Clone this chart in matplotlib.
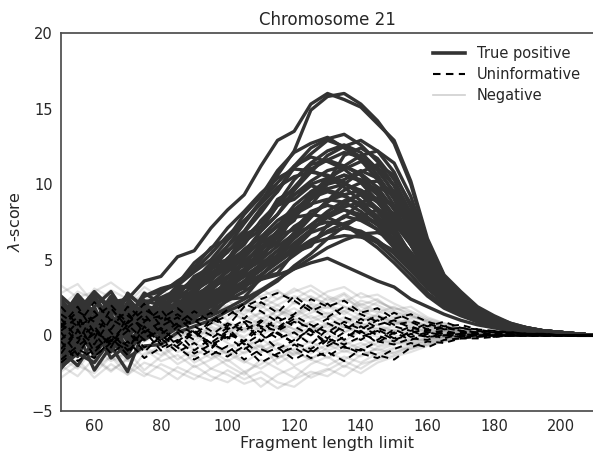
import matplotlib
matplotlib.use("Agg")
import matplotlib.pyplot as plt
from matplotlib.lines import Line2D

# ---------------- data ----------------
fragment_length = [50, 55, 60, 65, 70, 75, 80, 85, 90, 95, 100, 105, 110, 115, 120, 125,
                   130, 135, 140, 145, 150, 155, 160, 165, 170, 175, 180, 185, 190, 195,
                   200, 205, 210]

# True positive curves
tp01 = [1.5, 2.4, 0.8, 2.2, 2.4, 3.6, 3.9, 5.2, 5.6, 7.1, 8.3, 9.3, 11.2, 12.9, 13.5, 15.3, 16.0, 15.6, 15.1, 14.0, 12.9, 10.2, 6.4, 4.0, 2.9, 1.9, 1.3, 0.8, 0.5, 0.3, 0.2, 0.1, 0.0]
tp02 = [0.4, -0.6, 1.2, 0.3, 1.5, 1.1, 2.2, 2.9, 3.6, 4.8, 5.9, 7.4, 8.8, 10.6, 12.2, 14.9, 15.8, 16.0, 15.3, 14.2, 12.7, 10.0, 6.2, 3.9, 2.8, 1.8, 1.2, 0.8, 0.5, 0.3, 0.2, 0.1, 0.0]
tp03 = [0.9, 1.8, 0.2, 1.4, -0.3, 1.9, 1.6, 3.1, 3.3, 4.6, 5.5, 6.8, 8.1, 9.6, 11.2, 12.4, 13.0, 13.3, 12.6, 11.5, 9.9, 7.6, 4.9, 3.3, 2.2, 1.5, 1.0, 0.6, 0.4, 0.3, 0.2, 0.1, 0.0]
tp04 = [-0.8, 0.5, 1.7, 0.1, 1.2, 2.6, 2.9, 3.4, 4.5, 5.8, 6.4, 8.0, 9.2, 10.9, 12.1, 12.7, 13.1, 12.4, 11.6, 10.3, 8.6, 6.3, 4.3, 2.8, 1.9, 1.3, 0.9, 0.6, 0.4, 0.2, 0.1, 0.1, 0.0]
tp05 = [2.1, 0.6, -0.7, 1.0, 0.8, 0.2, 1.4, 1.9, 2.7, 3.2, 4.4, 5.3, 6.9, 8.0, 9.6, 10.8, 11.9, 12.5, 12.9, 12.2, 10.8, 8.5, 5.6, 3.7, 2.5, 1.6, 1.1, 0.7, 0.4, 0.3, 0.2, 0.1, 0.0]
tp06 = [0.2, 1.1, 2.4, 0.5, -1.1, 1.3, 0.9, 2.4, 3.0, 3.9, 5.1, 6.0, 7.6, 8.7, 10.3, 11.4, 12.2, 12.6, 12.1, 11.0, 9.4, 7.1, 4.6, 3.1, 2.1, 1.4, 0.9, 0.6, 0.4, 0.2, 0.1, 0.1, 0.0]
tp07 = [1.3, -0.4, 0.7, 1.8, 0.4, 1.0, 1.9, 2.6, 2.8, 4.1, 4.9, 6.2, 7.0, 8.6, 9.8, 11.0, 11.6, 12.1, 11.8, 10.9, 9.5, 7.4, 4.8, 3.2, 2.1, 1.4, 0.9, 0.6, 0.4, 0.2, 0.1, 0.1, 0.0]
tp08 = [0.5, 2.2, 1.0, -0.2, 1.6, 2.3, 2.0, 3.3, 4.2, 5.0, 6.3, 7.5, 8.9, 10.1, 11.2, 11.8, 11.5, 11.0, 10.1, 8.9, 7.2, 5.3, 3.6, 2.5, 1.7, 1.2, 0.8, 0.5, 0.3, 0.2, 0.1, 0.1, 0.0]
tp09 = [-1.2, 0.3, -0.5, 0.9, 0.1, 0.6, 0.8, 1.5, 2.1, 2.6, 3.5, 4.4, 5.6, 6.7, 8.1, 9.3, 10.4, 11.0, 11.5, 11.1, 9.9, 8.0, 5.4, 3.6, 2.4, 1.6, 1.0, 0.7, 0.4, 0.3, 0.2, 0.1, 0.0]
tp10 = [1.8, 0.9, 2.5, 1.1, 0.3, 1.7, 1.2, 2.0, 3.1, 3.6, 4.8, 5.5, 6.9, 8.0, 9.3, 10.2, 10.9, 11.2, 10.7, 9.8, 8.3, 6.5, 4.3, 2.9, 1.9, 1.3, 0.9, 0.6, 0.4, 0.2, 0.1, 0.1, 0.0]
tp11 = [0.0, 1.4, -0.9, 0.6, 1.9, 0.7, 1.5, 2.2, 2.5, 3.4, 4.2, 5.1, 6.3, 7.2, 8.6, 9.5, 10.2, 10.6, 10.3, 9.6, 8.4, 6.6, 4.4, 3.0, 2.0, 1.3, 0.9, 0.6, 0.4, 0.2, 0.1, 0.1, 0.0]
tp12 = [2.4, 1.0, 0.3, 2.0, 1.3, 0.5, 2.4, 2.9, 3.7, 4.3, 5.6, 6.4, 7.5, 8.6, 9.3, 10.0, 10.4, 10.1, 9.4, 8.4, 7.0, 5.4, 3.7, 2.6, 1.8, 1.2, 0.8, 0.5, 0.3, 0.2, 0.1, 0.1, 0.0]
tp13 = [-1.6, -0.3, 0.6, -0.8, 0.2, 0.9, 0.5, 1.1, 1.6, 2.3, 2.9, 3.6, 4.7, 5.6, 6.8, 7.9, 8.8, 9.6, 10.1, 10.2, 9.4, 7.9, 5.6, 3.8, 2.6, 1.7, 1.1, 0.7, 0.5, 0.3, 0.2, 0.1, 0.0]
tp14 = [0.7, -0.9, 1.3, 0.2, 1.0, 1.8, 1.0, 1.7, 2.4, 3.2, 3.9, 4.9, 5.8, 6.9, 8.0, 9.0, 9.7, 10.0, 9.6, 8.8, 7.6, 6.0, 4.1, 2.8, 1.9, 1.3, 0.9, 0.6, 0.4, 0.2, 0.1, 0.1, 0.0]
tp15 = [1.1, 2.7, 1.5, 0.6, 2.1, 1.4, 1.8, 2.5, 3.3, 3.9, 4.6, 5.7, 6.5, 7.6, 8.3, 9.1, 9.5, 9.2, 8.7, 7.9, 6.6, 5.1, 3.5, 2.4, 1.7, 1.1, 0.8, 0.5, 0.3, 0.2, 0.1, 0.1, 0.0]
tp16 = [-0.5, 0.8, -1.4, 0.4, -0.2, 0.3, 0.6, 0.9, 1.7, 2.0, 2.8, 3.4, 4.4, 5.3, 6.4, 7.3, 8.2, 8.9, 9.3, 8.9, 8.0, 6.6, 4.7, 3.2, 2.2, 1.5, 1.0, 0.6, 0.4, 0.3, 0.2, 0.1, 0.0]
tp17 = [1.6, 0.2, 0.9, 2.6, 0.8, 1.1, 1.4, 2.1, 2.9, 3.7, 4.5, 5.4, 6.2, 7.3, 8.1, 8.7, 9.0, 8.8, 8.2, 7.3, 6.1, 4.7, 3.3, 2.3, 1.6, 1.1, 0.7, 0.5, 0.3, 0.2, 0.1, 0.1, 0.0]
tp18 = [0.3, 1.6, 0.4, -0.6, 0.9, -0.1, 0.7, 1.3, 1.9, 2.5, 3.1, 3.9, 4.7, 5.6, 6.5, 7.3, 8.0, 8.5, 8.8, 8.4, 7.4, 6.0, 4.2, 2.9, 2.0, 1.4, 0.9, 0.6, 0.4, 0.2, 0.1, 0.1, 0.0]
tp19 = [-1.9, -0.4, 0.7, -1.1, 0.5, 0.2, 0.3, 1.0, 1.4, 2.2, 2.7, 3.5, 4.3, 5.2, 6.1, 7.0, 7.8, 8.3, 8.0, 7.3, 6.2, 4.9, 3.4, 2.4, 1.6, 1.1, 0.7, 0.5, 0.3, 0.2, 0.1, 0.1, 0.0]
tp20 = [2.0, 1.2, 2.8, 1.6, 0.9, 2.2, 2.5, 3.0, 3.5, 4.0, 4.9, 5.6, 6.5, 7.2, 7.8, 8.0, 7.8, 7.3, 6.6, 5.8, 4.8, 3.7, 2.6, 1.8, 1.3, 0.9, 0.6, 0.4, 0.3, 0.2, 0.1, 0.1, 0.0]
tp21 = [0.9, -0.7, 0.1, 1.2, -0.4, 0.6, 0.2, 0.8, 1.2, 1.6, 2.3, 2.9, 3.7, 4.5, 5.3, 6.1, 6.9, 7.4, 7.8, 7.5, 6.7, 5.5, 3.9, 2.7, 1.8, 1.2, 0.8, 0.5, 0.3, 0.2, 0.1, 0.1, 0.0]
tp22 = [-0.2, 1.9, 0.5, 0.0, 1.7, 0.8, 1.1, 1.6, 2.2, 2.8, 3.4, 4.2, 5.0, 5.9, 6.7, 7.2, 7.5, 7.3, 6.8, 6.1, 5.1, 4.0, 2.8, 2.0, 1.4, 0.9, 0.6, 0.4, 0.3, 0.2, 0.1, 0.1, 0.0]
tp23 = [1.3, 0.1, -1.0, 0.7, 1.4, -0.3, 0.4, 1.2, 1.5, 2.0, 2.6, 3.3, 4.0, 4.8, 5.6, 6.3, 6.8, 7.1, 6.9, 6.3, 5.4, 4.3, 3.1, 2.2, 1.5, 1.0, 0.7, 0.5, 0.3, 0.2, 0.1, 0.1, 0.0]
tp24 = [-2.2, -0.8, 0.4, -1.5, -0.6, 0.3, -0.2, 0.5, 0.9, 1.3, 1.8, 2.4, 3.0, 3.7, 4.4, 5.1, 5.8, 6.3, 6.7, 6.8, 6.4, 5.5, 4.1, 2.9, 2.0, 1.4, 0.9, 0.6, 0.4, 0.2, 0.1, 0.1, 0.0]
tp25 = [0.6, 2.3, 1.1, 1.9, 0.2, 1.5, 1.7, 2.0, 2.4, 2.8, 3.3, 3.9, 4.5, 5.1, 5.6, 6.1, 6.4, 6.6, 6.5, 6.2, 5.6, 4.6, 3.4, 2.4, 1.7, 1.2, 0.8, 0.5, 0.3, 0.2, 0.1, 0.1, 0.0]
tp26 = [-1.4, 0.2, -2.3, -0.7, -2.4, 0.4, -0.2, 0.9, 2.0, 2.6, 3.0, 3.3, 3.7, 4.0, 4.4, 4.8, 5.1, 4.6, 4.1, 3.6, 3.2, 2.4, 1.9, 1.4, 1.0, 0.7, 0.5, 0.3, 0.2, 0.1, 0.1, 0.0, 0.0]
tp27 = [0.1, -1.0, 1.0, 0.4, 2.0, 0.9, 0.4, 1.3, 1.8, 2.4, 3.2, 4.1, 5.2, 6.5, 7.8, 9.0, 10.2, 11.2, 11.9, 12.2, 11.4, 9.2, 6.0, 3.9, 2.6, 1.7, 1.1, 0.7, 0.5, 0.3, 0.2, 0.1, 0.0]
tp28 = [1.0, 2.1, 0.0, 1.4, 2.7, 1.9, 2.8, 3.6, 4.3, 5.4, 6.6, 7.6, 8.7, 9.8, 10.5, 10.8, 10.6, 10.1, 9.3, 8.2, 6.8, 5.2, 3.6, 2.5, 1.7, 1.2, 0.8, 0.5, 0.3, 0.2, 0.1, 0.1, 0.0]
tp29 = [-0.9, 0.6, 0.2, -0.4, 0.8, 1.4, 0.1, 0.7, 1.2, 1.9, 2.5, 3.2, 4.0, 4.9, 5.9, 6.9, 7.9, 8.7, 9.4, 9.8, 9.3, 7.7, 5.4, 3.6, 2.4, 1.6, 1.0, 0.7, 0.4, 0.3, 0.2, 0.1, 0.0]
tp30 = [1.7, 0.4, 1.9, 2.9, 1.2, 2.6, 3.1, 3.4, 4.8, 5.7, 7.1, 8.2, 9.4, 10.4, 11.0, 10.9, 10.5, 9.8, 8.9, 7.7, 6.3, 4.8, 3.4, 2.4, 1.6, 1.1, 0.8, 0.5, 0.3, 0.2, 0.1, 0.1, 0.0]
tp31 = [0.6, -1.4, 0.9, 2.3, 0.1, 1.1, 0.5, 1.7, 1.3, 2.9, 2.6, 4.3, 4.9, 6.8, 7.6, 9.5, 10.1, 11.9, 12.4, 11.7, 10.3, 8.1, 5.2, 3.5, 2.3, 1.5, 1.0, 0.6, 0.4, 0.3, 0.2, 0.1, 0.0]
tp32 = [-0.6, 1.7, 2.6, 0.8, 1.5, -0.2, 1.3, 2.9, 2.6, 4.4, 4.9, 6.6, 7.2, 9.0, 9.6, 11.3, 11.6, 11.2, 10.6, 9.4, 7.9, 6.0, 4.0, 2.7, 1.8, 1.2, 0.8, 0.5, 0.3, 0.2, 0.1, 0.1, 0.0]
tp33 = [1.2, 0.2, -1.2, 0.5, 2.2, 0.4, 0.9, 1.0, 2.2, 2.3, 3.8, 4.0, 5.9, 6.2, 8.0, 8.6, 10.0, 10.3, 10.9, 10.4, 9.1, 7.4, 5.0, 3.4, 2.3, 1.5, 1.0, 0.6, 0.4, 0.3, 0.2, 0.1, 0.0]
tp34 = [2.3, 1.3, 0.5, 2.4, 1.1, 2.8, 2.1, 3.3, 3.1, 4.7, 5.0, 6.7, 7.1, 8.6, 9.0, 9.9, 9.6, 9.3, 8.5, 7.6, 6.2, 4.8, 3.3, 2.3, 1.6, 1.1, 0.7, 0.5, 0.3, 0.2, 0.1, 0.1, 0.0]
tp35 = [-1.0, -2.0, -0.3, 0.9, -0.9, 0.0, 0.9, 0.4, 1.5, 1.3, 2.4, 2.5, 3.8, 4.1, 5.5, 5.9, 7.3, 7.8, 8.8, 9.1, 8.6, 7.2, 5.1, 3.5, 2.4, 1.6, 1.0, 0.7, 0.4, 0.3, 0.2, 0.1, 0.0]
tp36 = [0.8, 2.5, 1.4, 0.2, 2.8, 1.8, 0.9, 2.3, 1.8, 3.4, 3.5, 4.8, 5.2, 6.6, 7.0, 8.2, 8.6, 8.3, 7.8, 7.0, 5.8, 4.5, 3.1, 2.2, 1.5, 1.0, 0.7, 0.5, 0.3, 0.2, 0.1, 0.1, 0.0]
tp37 = [-0.3, 0.7, 1.9, -0.5, 0.7, 2.0, 1.6, 1.4, 2.7, 2.9, 4.3, 4.6, 6.1, 6.8, 8.3, 9.2, 10.1, 10.6, 10.2, 9.3, 7.9, 6.1, 4.1, 2.8, 1.9, 1.3, 0.9, 0.6, 0.4, 0.2, 0.1, 0.1, 0.0]
tp38 = [1.9, 0.4, -0.4, 1.3, 0.0, 0.9, 0.0, 1.4, 1.0, 2.4, 2.3, 3.6, 3.9, 5.1, 5.7, 6.8, 7.2, 7.9, 7.6, 7.0, 6.0, 4.7, 3.3, 2.3, 1.6, 1.1, 0.7, 0.5, 0.3, 0.2, 0.1, 0.1, 0.0]
tp39 = [0.3, 1.0, -0.2, 1.6, 2.5, 1.2, 2.4, 2.6, 3.9, 4.5, 5.9, 6.9, 8.4, 9.5, 11.1, 12.0, 12.9, 12.5, 11.8, 10.6, 9.0, 6.8, 4.5, 3.0, 2.0, 1.3, 0.9, 0.6, 0.4, 0.2, 0.1, 0.1, 0.0]
tp40 = [-1.7, 0.0, -0.7, 0.3, -1.3, 0.5, 0.3, 0.6, 1.4, 1.6, 2.9, 3.1, 4.6, 5.3, 6.6, 7.8, 8.9, 10.0, 10.8, 11.3, 10.6, 8.7, 5.9, 3.9, 2.6, 1.7, 1.1, 0.7, 0.5, 0.3, 0.2, 0.1, 0.0]
tp41 = [2.6, 1.6, 2.9, 1.8, 2.4, 1.3, 2.3, 1.8, 2.6, 3.0, 3.9, 4.3, 5.4, 6.1, 7.2, 7.9, 8.9, 9.3, 9.6, 9.0, 7.9, 6.4, 4.5, 3.1, 2.1, 1.4, 0.9, 0.6, 0.4, 0.2, 0.1, 0.1, 0.0]
tp42 = [-2.1, -1.2, -1.8, -0.3, -1.5, -0.7, -0.6, 0.2, 0.6, 1.0, 1.6, 2.1, 2.9, 3.6, 4.6, 5.4, 6.4, 7.2, 7.9, 8.3, 7.9, 6.8, 4.9, 3.4, 2.3, 1.6, 1.0, 0.7, 0.4, 0.3, 0.2, 0.1, 0.0]

# Uninformative curves
un01 = [0.8, -0.5, 1.6, 0.2, -1.0, 0.9, 1.7, 0.4, -0.3, 1.1, 0.6, 1.9, 2.4, 2.8, 2.3, 1.6, 2.1, 1.2, 0.8, 1.3, 0.7, 0.9, 0.4, 0.6, 0.3, 0.2, 0.3, 0.1, 0.1, 0.0, 0.0, 0.0, 0.0]
un02 = [-1.2, 0.3, -0.6, 1.1, 0.4, -0.8, -0.2, -1.1, -0.5, -1.3, -0.7, -1.6, -0.9, -1.4, -0.6, -1.2, -0.3, -0.8, -1.0, -0.4, -0.6, -0.2, -0.3, 0.1, -0.1, 0.0, 0.1, 0.0, 0.0, 0.0, 0.0, 0.0, 0.0]
un03 = [1.9, 0.7, 2.2, 1.0, 1.5, 0.2, 0.9, 1.4, 0.6, 0.0, 0.8, 0.3, 1.0, 0.5, 1.3, 0.7, 0.2, 0.9, 0.4, 1.0, 0.6, 0.3, 0.8, 0.4, 0.5, 0.3, 0.2, 0.2, 0.1, 0.1, 0.0, 0.0, 0.0]
un04 = [-0.4, -1.7, -0.9, -0.1, -1.3, 0.6, -0.6, 0.2, -1.0, -0.2, 0.5, -0.6, 0.1, -0.9, -0.3, 0.4, -0.7, -0.1, 0.3, -0.5, 0.2, -0.3, 0.1, -0.2, 0.1, 0.0, -0.1, 0.0, 0.0, 0.0, 0.0, 0.0, 0.0]
un05 = [0.3, 1.2, -0.2, 1.8, 0.5, 1.4, 0.1, 0.8, 1.6, 0.9, 1.7, 1.1, 2.2, 1.5, 2.6, 1.8, 1.2, 1.9, 1.4, 0.9, 1.5, 1.0, 0.6, 0.9, 0.5, 0.4, 0.2, 0.2, 0.1, 0.1, 0.0, 0.0, 0.0]
un06 = [-0.9, 0.4, -1.4, -0.5, 0.7, -0.3, 0.4, -0.7, 0.2, -0.5, -1.1, -0.4, -1.3, -0.8, -1.6, -1.0, -1.4, -0.7, -1.2, -1.5, -0.9, -0.5, -0.8, -0.3, -0.2, -0.1, 0.0, 0.0, 0.0, 0.0, 0.0, 0.0, 0.0]
un07 = [1.1, -0.2, 0.6, -0.8, 1.3, 0.5, -0.4, 0.6, 1.0, 0.3, -0.2, 0.7, 0.2, 1.2, 0.6, 0.0, 0.8, 0.3, 1.1, 0.5, 0.1, 0.6, 0.2, 0.3, 0.1, 0.2, 0.1, 0.0, 0.0, 0.0, 0.0, 0.0, 0.0]
un08 = [-1.6, -0.7, 0.1, -1.2, -0.4, -1.5, -0.8, -0.3, -1.2, -0.6, -0.1, -0.9, -0.3, 0.2, -0.5, -0.9, -0.2, -0.6, -0.1, 0.3, -0.3, 0.1, -0.1, 0.0, -0.1, 0.0, 0.0, 0.0, 0.0, 0.0, 0.0, 0.0, 0.0]
un09 = [0.5, 1.6, 0.9, 0.4, 1.9, 1.0, 1.3, 0.7, 0.1, 0.8, 1.3, 2.1, 1.6, 0.9, 1.4, 2.4, 1.9, 2.3, 1.5, 1.8, 1.1, 1.4, 0.9, 0.6, 0.7, 0.4, 0.3, 0.2, 0.1, 0.1, 0.0, 0.0, 0.0]
un10 = [-0.3, 0.9, -1.1, 0.0, -0.7, 0.3, -1.0, -0.4, 0.4, -0.9, 0.1, -0.4, 0.5, -0.2, 0.2, -0.6, 0.4, -0.3, 0.6, 0.0, -0.4, 0.3, -0.1, 0.2, 0.0, 0.1, 0.0, 0.0, 0.0, 0.0, 0.0, 0.0, 0.0]
un11 = [0.2, -1.3, 0.4, -0.6, 0.3, -1.1, 0.0, -0.8, -1.6, -1.0, -1.4, -0.7, -1.8, -1.2, -0.8, -1.5, -1.1, -1.7, -0.9, -1.3, -1.6, -0.8, -0.4, -0.5, -0.2, -0.2, -0.1, 0.0, 0.0, 0.0, 0.0, 0.0, 0.0]
un12 = [1.4, 0.6, 1.2, 2.0, 0.8, 1.7, 1.1, 1.8, 0.9, 1.5, 0.4, 1.0, 0.6, 0.3, 0.9, 0.5, 1.1, 0.6, 0.2, 0.7, 1.0, 0.5, 0.3, 0.5, 0.3, 0.1, 0.1, 0.1, 0.0, 0.0, 0.0, 0.0, 0.0]
un13 = [-1.8, -0.9, -1.5, -0.3, -1.0, -0.2, 0.5, -0.5, 0.3, -0.8, 0.2, -0.4, 0.9, 0.1, -0.5, 0.5, -0.2, 0.7, 0.1, -0.3, 0.4, -0.1, 0.2, 0.0, 0.1, 0.0, 0.0, 0.0, 0.0, 0.0, 0.0, 0.0, 0.0]
un14 = [0.6, 1.9, 0.2, -0.4, 0.9, 2.1, 0.6, 1.2, 0.2, -0.5, 0.3, 0.9, -0.4, 0.4, 1.1, 0.3, -0.5, 0.2, -0.3, 0.4, -0.2, 0.2, 0.4, 0.1, 0.2, 0.1, 0.0, 0.0, 0.0, 0.0, 0.0, 0.0, 0.0]

# Negative curves
ng01 = [2.8, 3.4, 2.1, 3.0, 2.4, 1.6, 2.2, 1.4, 2.0, 2.6, 1.8, 2.5, 3.1, 2.4, 2.9, 3.3, 2.6, 2.2, 2.8, 2.3, 1.7, 1.9, 1.2, 0.8, 0.5, 0.3, 0.2, 0.1, 0.0, 0.0, 0.0, 0.0, 0.0]
ng02 = [-2.4, -1.6, -2.8, -1.9, -2.6, -1.8, -2.2, -2.9, -2.0, -2.7, -3.1, -2.4, -3.4, -2.6, -2.1, -2.8, -2.3, -1.7, -2.2, -1.5, -1.1, -0.8, -0.6, -0.3, -0.2, -0.1, 0.0, 0.0, 0.0, 0.0, 0.0, 0.0, 0.0]
ng03 = [0.6, 1.5, 0.2, 1.1, 1.9, 0.8, 1.3, 0.5, 1.2, 0.7, 1.6, 1.0, 0.4, 1.3, 1.8, 1.1, 1.5, 0.9, 1.4, 1.0, 0.7, 1.1, 0.6, 0.4, 0.3, 0.2, 0.1, 0.0, 0.0, 0.0, 0.0, 0.0, 0.0]
ng04 = [-0.8, 0.1, -1.3, -0.4, 0.3, -0.9, -0.2, -1.1, -0.6, 0.2, -0.5, -1.2, -0.7, -1.5, -0.9, -0.4, -1.0, -0.6, -0.2, -0.7, -0.3, -0.5, -0.2, -0.1, -0.1, 0.0, 0.0, 0.0, 0.0, 0.0, 0.0, 0.0, 0.0]
ng05 = [1.7, 0.9, 2.4, 1.3, 0.6, 1.8, 0.7, 1.5, 0.9, 1.9, 2.3, 1.6, 2.0, 1.2, 2.2, 1.7, 2.5, 1.9, 1.3, 1.8, 1.4, 0.9, 0.7, 0.5, 0.3, 0.2, 0.1, 0.0, 0.0, 0.0, 0.0, 0.0, 0.0]
ng06 = [-1.5, -2.2, -0.8, -1.7, -1.1, -2.3, -1.4, -0.7, -1.8, -1.2, -2.0, -2.6, -1.6, -2.2, -2.8, -1.9, -1.4, -2.1, -1.3, -0.9, -1.2, -0.7, -0.4, -0.3, -0.1, -0.1, 0.0, 0.0, 0.0, 0.0, 0.0, 0.0, 0.0]
ng07 = [0.1, -0.6, 0.8, -0.2, 0.5, 0.0, 0.9, 0.3, -0.4, 0.6, 0.1, 0.8, 0.3, 0.9, 0.4, 0.0, 0.7, 0.2, 0.8, 0.4, 0.6, 0.2, 0.4, 0.2, 0.1, 0.1, 0.0, 0.0, 0.0, 0.0, 0.0, 0.0, 0.0]
ng08 = [2.2, 1.4, 3.1, 2.5, 1.8, 2.9, 2.0, 2.7, 1.6, 1.2, 1.7, 1.1, 1.5, 2.0, 1.4, 2.1, 1.8, 2.4, 1.9, 1.5, 1.9, 1.3, 0.9, 0.6, 0.4, 0.2, 0.1, 0.1, 0.0, 0.0, 0.0, 0.0, 0.0]
ng09 = [-0.2, 0.7, -0.5, 0.4, -0.9, 0.2, -0.3, 0.5, 0.0, -0.6, 0.3, -0.2, -0.8, -0.3, 0.2, -0.5, 0.1, -0.4, 0.3, -0.1, 0.0, -0.2, 0.1, 0.0, 0.0, 0.0, 0.0, 0.0, 0.0, 0.0, 0.0, 0.0, 0.0]
ng10 = [1.0, 2.0, 1.4, 0.3, 1.1, 0.4, -0.1, 0.6, 0.2, 0.9, 0.4, -0.1, 0.6, 0.1, 0.8, 1.3, 0.7, 1.2, 0.6, 1.1, 0.9, 0.5, 0.3, 0.3, 0.2, 0.1, 0.0, 0.0, 0.0, 0.0, 0.0, 0.0, 0.0]
ng11 = [-1.9, -1.0, -1.6, -2.4, -1.5, -0.9, -1.7, -1.3, -2.1, -1.6, -1.0, -1.7, -2.2, -1.5, -1.1, -1.6, -2.0, -1.4, -1.8, -1.2, -0.8, -0.9, -0.5, -0.3, -0.2, -0.1, 0.0, 0.0, 0.0, 0.0, 0.0, 0.0, 0.0]
ng12 = [0.4, -0.3, 0.0, 0.9, 0.1, 0.7, 0.3, -0.2, 0.5, 1.1, 0.6, 0.2, 1.0, 0.5, 1.1, 0.6, 0.3, 0.8, 1.2, 0.7, 1.0, 0.6, 0.3, 0.3, 0.1, 0.1, 0.1, 0.0, 0.0, 0.0, 0.0, 0.0, 0.0]
ng13 = [3.3, 2.5, 2.9, 3.5, 2.7, 2.2, 3.0, 2.4, 1.7, 2.3, 2.8, 3.3, 2.5, 2.0, 2.6, 2.2, 2.9, 3.2, 2.5, 2.7, 2.1, 1.6, 1.1, 0.8, 0.5, 0.3, 0.1, 0.1, 0.0, 0.0, 0.0, 0.0, 0.0]
ng14 = [-0.5, -1.2, -0.2, -0.9, -1.7, -0.8, -1.3, -0.5, -0.9, -1.5, -0.8, -0.3, -1.1, -0.6, -1.3, -0.8, -0.3, -0.9, -0.5, -1.0, -0.6, -0.3, -0.3, -0.1, -0.1, 0.0, 0.0, 0.0, 0.0, 0.0, 0.0, 0.0, 0.0]
ng15 = [0.9, 0.2, 1.0, 0.5, -0.2, 0.4, 1.2, 0.8, 1.4, 0.9, 0.3, 0.8, 1.5, 0.9, 0.4, 0.9, 1.3, 0.5, 0.9, 1.4, 0.8, 0.7, 0.5, 0.3, 0.2, 0.1, 0.1, 0.0, 0.0, 0.0, 0.0, 0.0, 0.0]
ng16 = [-2.8, -2.0, -2.5, -1.4, -2.1, -2.7, -1.9, -2.4, -2.9, -2.2, -2.6, -3.2, -2.8, -3.5, -2.9, -2.4, -2.7, -2.0, -2.5, -1.8, -1.4, -1.1, -0.7, -0.4, -0.2, -0.1, 0.0, 0.0, 0.0, 0.0, 0.0, 0.0, 0.0]
ng17 = [1.3, 2.2, 0.7, 1.6, 2.3, 1.2, 1.7, 2.1, 1.2, 0.8, 1.3, 1.8, 1.1, 1.6, 1.0, 1.5, 1.9, 1.4, 2.1, 1.6, 1.2, 1.4, 0.8, 0.6, 0.4, 0.2, 0.1, 0.0, 0.0, 0.0, 0.0, 0.0, 0.0]
ng18 = [-1.1, -0.3, -1.9, -1.0, -0.5, -1.4, -0.6, -1.6, -0.9, -0.4, -1.3, -0.8, -0.2, -1.0, -0.5, -1.2, -0.6, -1.1, -0.7, -0.3, -0.5, -0.4, -0.2, -0.1, 0.0, 0.0, 0.0, 0.0, 0.0, 0.0, 0.0, 0.0, 0.0]
ng19 = [0.0, 0.8, 0.3, -0.5, 0.6, 1.3, 0.5, 0.9, 0.3, 0.0, 0.7, 0.3, 0.9, 0.4, 0.1, 0.5, 0.2, 0.6, 0.1, 0.5, 0.3, 0.2, 0.2, 0.1, 0.1, 0.0, 0.0, 0.0, 0.0, 0.0, 0.0, 0.0, 0.0]
ng20 = [2.5, 1.8, 1.1, 2.0, 1.4, 2.6, 1.5, 1.0, 2.3, 1.7, 1.0, 2.0, 2.6, 3.0, 2.1, 2.6, 2.0, 1.6, 2.3, 2.0, 1.5, 1.2, 1.0, 0.6, 0.4, 0.2, 0.1, 0.1, 0.0, 0.0, 0.0, 0.0, 0.0]
ng21 = [-1.3, -0.6, -0.1, -1.1, -0.3, 0.4, -0.8, 0.0, -0.5, -1.0, -1.7, -1.1, -0.6, -1.9, -1.2, -0.7, -1.5, -1.0, -1.4, -0.8, -0.5, -0.6, -0.3, -0.2, -0.1, 0.0, 0.0, 0.0, 0.0, 0.0, 0.0, 0.0, 0.0]
ng22 = [0.7, 1.8, 1.2, 2.7, 1.0, 0.5, 1.0, 1.8, 2.5, 1.9, 2.7, 2.3, 1.8, 2.4, 3.1, 2.5, 2.1, 2.7, 1.6, 2.2, 1.8, 1.5, 1.0, 0.7, 0.4, 0.2, 0.1, 0.0, 0.0, 0.0, 0.0, 0.0, 0.0]
ng23 = [1.9, 2.9, 2.4, 1.2, 2.1, 3.2, 2.5, 1.9, 3.0, 2.3, 3.3, 2.7, 2.0, 2.9, 2.4, 3.0, 2.3, 2.8, 2.0, 2.4, 1.6, 1.3, 0.9, 0.6, 0.3, 0.2, 0.1, 0.0, 0.0, 0.0, 0.0, 0.0, 0.0]
ng24 = [-2.0, -2.7, -1.5, -2.3, -1.6, -2.5, -2.9, -2.1, -2.6, -3.0, -2.3, -2.9, -2.4, -3.1, -3.4, -2.6, -2.2, -2.7, -1.9, -1.6, -1.3, -0.9, -0.6, -0.4, -0.2, -0.1, 0.0, 0.0, 0.0, 0.0, 0.0, 0.0, 0.0]
ng25 = [0.3, -0.4, 1.1, 0.6, -0.5, 0.2, 0.8, 0.0, 0.6, 0.2, 0.9, 0.4, 1.2, 0.6, 0.2, 0.9, 0.5, 1.0, 0.4, 0.7, 0.3, 0.5, 0.2, 0.2, 0.1, 0.0, 0.0, 0.0, 0.0, 0.0, 0.0, 0.0, 0.0]
ng26 = [-0.6, 0.5, -0.1, -1.0, -0.2, 0.6, -0.5, 0.4, -0.1, 0.5, -0.3, 0.5, 0.0, 0.6, -0.2, 0.3, 0.8, 0.2, 0.6, 0.1, 0.4, 0.0, 0.2, 0.1, 0.0, 0.0, 0.0, 0.0, 0.0, 0.0, 0.0, 0.0, 0.0]
ng27 = [1.5, 0.6, 1.9, 1.0, 1.6, 2.1, 1.1, 2.0, 1.5, 1.3, 2.0, 1.4, 2.2, 1.7, 1.3, 2.0, 1.4, 1.9, 1.6, 1.2, 1.1, 0.8, 0.6, 0.4, 0.3, 0.1, 0.1, 0.0, 0.0, 0.0, 0.0, 0.0, 0.0]
ng28 = [-1.7, -0.9, -2.1, -1.4, -2.6, -1.2, -1.0, -1.9, -1.3, -2.2, -1.6, -2.4, -1.9, -1.2, -2.0, -1.5, -1.1, -1.6, -1.0, -1.4, -0.9, -0.6, -0.4, -0.2, -0.1, 0.0, 0.0, 0.0, 0.0, 0.0, 0.0, 0.0, 0.0]
ng29 = [0.9, 1.3, 0.4, 1.8, 0.9, 0.3, 1.6, 1.2, 0.7, 1.4, 1.9, 1.3, 0.7, 1.7, 1.2, 1.8, 1.1, 1.6, 1.0, 1.3, 0.9, 0.9, 0.5, 0.4, 0.2, 0.1, 0.1, 0.0, 0.0, 0.0, 0.0, 0.0, 0.0]
ng30 = [-0.3, -1.4, -0.7, 0.2, -0.9, -0.4, 0.1, -0.8, -1.4, -0.6, -1.2, -1.8, -1.1, -0.5, -1.0, -1.6, -0.8, -0.4, -0.9, -0.5, -0.2, -0.3, -0.1, -0.1, 0.0, 0.0, 0.0, 0.0, 0.0, 0.0, 0.0, 0.0, 0.0]

true_positive = [tp01, tp02, tp03, tp04, tp05, tp06, tp07, tp08, tp09, tp10, tp11, tp12, tp13, tp14,
                 tp15, tp16, tp17, tp18, tp19, tp20, tp21, tp22, tp23, tp24, tp25, tp26, tp27, tp28,
                 tp29, tp30, tp31, tp32, tp33, tp34, tp35, tp36, tp37, tp38, tp39, tp40, tp41, tp42]
uninformative = [un01, un02, un03, un04, un05, un06, un07, un08, un09, un10, un11, un12, un13, un14]
negative = [ng01, ng02, ng03, ng04, ng05, ng06, ng07, ng08, ng09, ng10, ng11, ng12, ng13, ng14, ng15,
            ng16, ng17, ng18, ng19, ng20, ng21, ng22, ng23, ng24, ng25, ng26, ng27, ng28, ng29, ng30]

title = "Chromosome 21"
x_label = "Fragment length limit"
y_label = r"$\lambda$-score"
legend_labels = ["True positive", "Uninformative", "Negative"]
x_ticks = [60, 80, 100, 120, 140, 160, 180, 200]
y_ticks = [-5, 0, 5, 10, 15, 20]

# ---------------- style ----------------
text_color = "#262626"
plt.rcParams["font.family"] = ["DejaVu Sans"]
plt.rcParams["mathtext.fontset"] = "dejavusans"

TP_COLOR = "#333333"
NEG_COLOR = "#7a7a7a"

fig = plt.figure(figsize=(5.93, 4.53), dpi=100)
ax = fig.add_axes([61 / 593, 42 / 453, 533 / 593, 378 / 453])

for ys in negative:
    ax.plot(fragment_length, ys, color=NEG_COLOR, lw=1.6, alpha=0.22, zorder=1)
for ys in true_positive:
    ax.plot(fragment_length, ys, color=TP_COLOR, lw=2.4, zorder=2)
for ys in uninformative:
    ax.plot(fragment_length, ys, color="black", lw=1.4, dashes=(3.6, 2.6), zorder=3)

ax.set_xlim(50, 210)
ax.set_ylim(-5, 20)
ax.set_xticks(x_ticks)
ax.set_yticks(y_ticks)
ax.tick_params(axis="both", length=0, labelsize=10.5, colors=text_color, pad=6)
for side in ["left", "bottom", "top"]:
    ax.spines[side].set_color("#4d4d4d")
    ax.spines[side].set_linewidth(1.25)
ax.spines["right"].set_visible(False)

ax.set_title(title, fontsize=12, color=text_color, pad=6)
ax.set_xlabel(x_label, fontsize=11.5, color=text_color, labelpad=1)
ax.set_ylabel(y_label, fontsize=11.5, color=text_color, labelpad=6)

handles = [
    Line2D([], [], color=TP_COLOR, lw=2.6),
    Line2D([], [], color="black", lw=1.5, dashes=(3.6, 2.6)),
    Line2D([], [], color="#cfcfcf", lw=1.2),
]
leg = ax.legend(handles, legend_labels, loc="upper right", frameon=False, fontsize=10.5,
                handlelength=2.2, handletextpad=0.8, labelspacing=0.4)
for t in leg.get_texts():
    t.set_color(text_color)

fig.savefig("out.png", dpi=100)
